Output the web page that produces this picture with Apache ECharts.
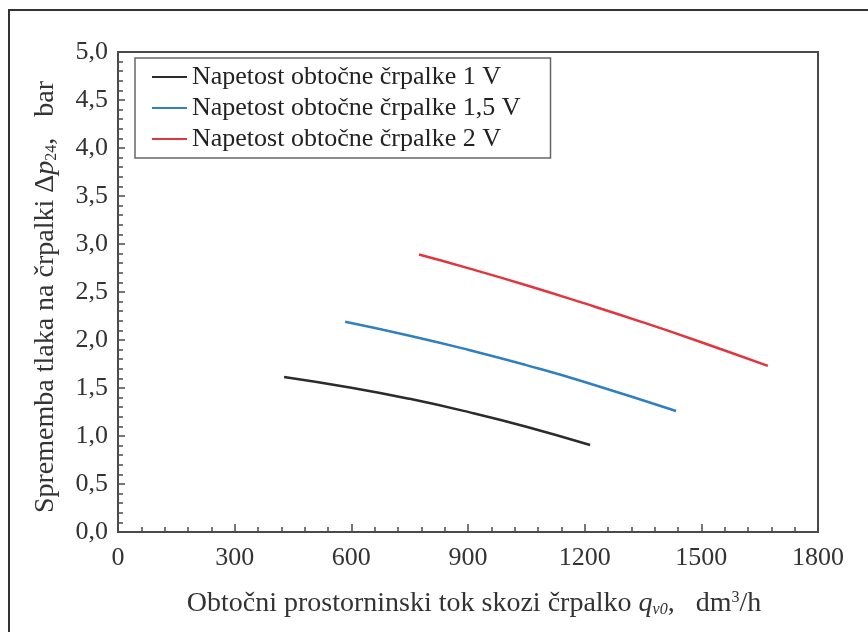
<!DOCTYPE html>
<html>
<head>
<meta charset="utf-8">
<script src="https://cdn.jsdelivr.net/npm/echarts@6/dist/echarts.min.js"></script>
<style>
  html, body { margin: 0; padding: 0; background: #fff; }
  #chart { width: 868px; height: 632px; }
</style>
</head>
<body>
<div id="chart"></div>
<script>
// podatki odčitani s slike
var seriesNames = ['Napetost obtočne črpalke 1 V', 'Napetost obtočne črpalke 1,5 V', 'Napetost obtočne črpalke 2 V'];
var xTicks = [0, 300, 600, 900, 1200, 1500, 1800];
var yTicks = [0, 0.5, 1, 1.5, 2, 2.5, 3, 3.5, 4, 4.5, 5];

var x1V = [427, 600, 750, 900, 1050, 1214];
var y1V = [1.615, 1.503, 1.387, 1.251, 1.097, 0.906];

var x15V = [584, 750, 900, 1050, 1200, 1435];
var y15V = [2.19, 2.045, 1.899, 1.738, 1.563, 1.26];

var x2V = [774, 900, 1050, 1200, 1350, 1500, 1671];
var y2V = [2.89, 2.749, 2.571, 2.381, 2.184, 1.977, 1.73];

var colors = ['#2b2b2b', '#2f7fc1', '#e2363f'];
var font = '"Liberation Serif", "Times New Roman", serif';

function pairs(xs, ys) {
    return xs.map(function (x, i) { return [x, ys[i]]; });
}

var chart = echarts.init(document.getElementById('chart'));

var lines = [[x1V, y1V], [x15V, y15V], [x2V, y2V]].map(function (d, i) {
    return {
        name: seriesNames[i],
        type: 'line',
        data: pairs(d[0], d[1]),
        smooth: true,
        showSymbol: false,
        symbol: 'none',
        lineStyle: { color: colors[i], width: 2.5 },
        itemStyle: { color: colors[i] }
    };
});

chart.setOption({
    backgroundColor: '#fff',
    animation: false,
    graphic: [{
        type: 'rect',
        shape: { x: 9, y: 10, width: 900, height: 700 },
        style: { fill: 'none', stroke: '#333', lineWidth: 2 }
    }],
    grid: {
        left: 118, top: 52, width: 700, height: 480,
        show: true, borderColor: '#4a4a4a', borderWidth: 2
    },
    legend: {
        orient: 'vertical',
        left: 135, top: 58,
        data: seriesNames,
        icon: 'rect',
        itemWidth: 35, itemHeight: 2,
        itemGap: 5,
        padding: [6, 30, 6, 17],
        borderColor: '#666', borderWidth: 1.5,
        textStyle: { fontFamily: font, fontSize: 26, color: '#222', lineHeight: 26 }
    },
    xAxis: {
        type: 'value',
        min: xTicks[0], max: xTicks[xTicks.length - 1], interval: 300,
        axisLine: { show: true, lineStyle: { color: '#4a4a4a', width: 2 } },
        axisTick: { show: true, inside: true, length: 8, lineStyle: { color: '#4a4a4a', width: 1.5 } },
        minorTick: { show: true, splitNumber: 5, length: 5, lineStyle: { color: '#4a4a4a', width: 1.5 } },
        splitLine: { show: false },
        axisLabel: {
            fontFamily: font, fontSize: 26, color: '#333', margin: 13,
            formatter: function (v) { return String(v); }
        },
        name: '{t|Obtočni prostorninski tok skozi črpalko }{q|q}{s|v0}{t|,   dm}{p|3}{t|/h}',
        nameLocation: 'middle',
        nameGap: 58,
        nameTextStyle: {
            padding: [0, 0, 0, 12],
            rich: {
                t: { fontFamily: font, fontSize: 28, color: '#333', lineHeight: 28 },
                q: { fontFamily: font, fontSize: 28, color: '#333', fontStyle: 'italic', lineHeight: 28 },
                s: { fontFamily: font, fontSize: 16, color: '#333', fontStyle: 'italic', lineHeight: 16, verticalAlign: 'bottom' },
                p: { fontFamily: font, fontSize: 16, color: '#333', lineHeight: 16, verticalAlign: 'top' }
            }
        }
    },
    yAxis: {
        type: 'value',
        min: yTicks[0], max: yTicks[yTicks.length - 1], interval: 0.5,
        axisLine: { show: true, lineStyle: { color: '#4a4a4a', width: 2 } },
        axisTick: { show: true, inside: true, length: 7, lineStyle: { color: '#4a4a4a', width: 1.5 } },
        minorTick: { show: true, splitNumber: 5, length: 5, lineStyle: { color: '#4a4a4a', width: 1.5 } },
        splitLine: { show: false },
        axisLabel: {
            fontFamily: font, fontSize: 26, color: '#333', margin: 10,
            formatter: function (v) { return v.toFixed(1).replace('.', ','); }
        },
        name: '{t|Sprememba tlaka na črpalki Δ}{q|p}{s|24}{t|,   bar}',
        nameLocation: 'middle',
        nameGap: 58,
        nameTextStyle: {
            padding: [0, 10, 0, 0],
            rich: {
                t: { fontFamily: font, fontSize: 28, color: '#333', lineHeight: 28 },
                q: { fontFamily: font, fontSize: 28, color: '#333', fontStyle: 'italic', lineHeight: 28 },
                s: { fontFamily: font, fontSize: 16, color: '#333', lineHeight: 16, verticalAlign: 'bottom' }
            }
        }
    },
    series: lines
});
</script>
</body>
</html>
